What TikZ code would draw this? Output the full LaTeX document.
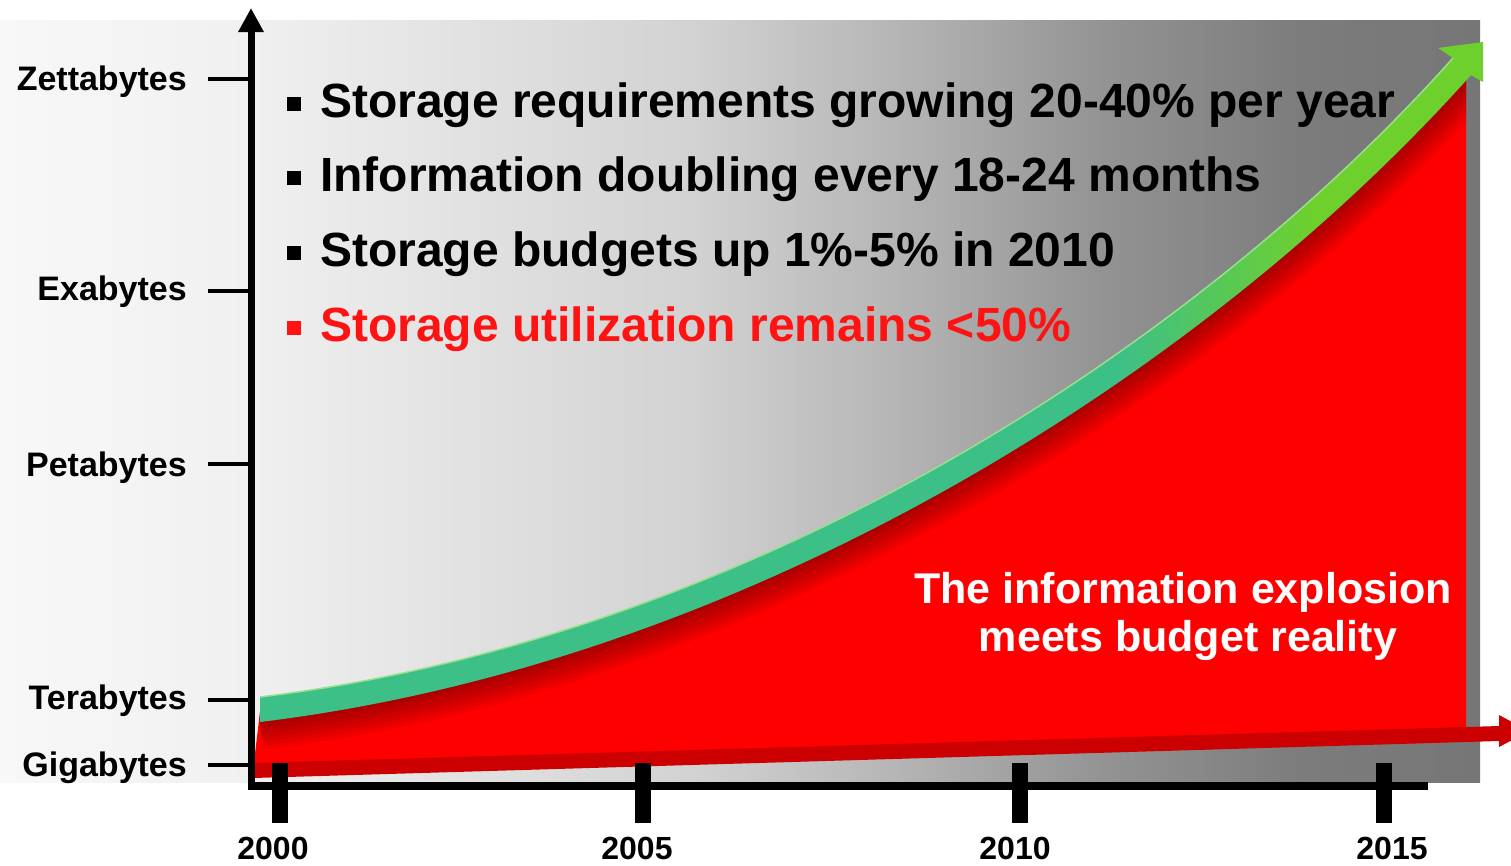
\documentclass[tikz,border=0pt]{standalone}
\usepackage{fontspec}
\setmainfont{Liberation Sans}
\usetikzlibrary{arrows.meta}

% palette
\definecolor{bulletred}{RGB}{255,18,18}
\definecolor{areared}{RGB}{255,0,0}
\definecolor{budgetred}{RGB}{204,0,0}
\definecolor{growteal}{RGB}{61,191,136}
\definecolor{growlime}{RGB}{110,208,45}
\definecolor{growedge}{RGB}{150,225,140}
\definecolor{pa}{RGB}{248,248,248}
\definecolor{pb}{RGB}{240,240,240}
\definecolor{pc}{RGB}{210,210,210}
\definecolor{pd}{RGB}{180,180,180}
\definecolor{pe}{RGB}{148,148,148}
\definecolor{pf}{RGB}{124,124,124}
\definecolor{pg}{RGB}{118,118,118}

% panel background: light on the left, darker grey to the right
\pgfdeclarehorizontalshading{panelshade}{100bp}{%
  color(0bp)=(pa); color(25bp)=(pa); color(33.5bp)=(pb); color(48.5bp)=(pc);
  color(55.5bp)=(pd); color(62bp)=(pe); color(69bp)=(pf); color(75bp)=(pg);
  color(100bp)=(pg)}
% growth arrow: teal body turning lime near the head
\pgfdeclarehorizontalshading{growshade}{100bp}{%
  color(0bp)=(growteal); color(60bp)=(growteal); color(68bp)=(growlime);
  color(100bp)=(growlime)}

\tikzset{
  ylab/.style={font=\bfseries\fontsize{34}{40}\selectfont, inner sep=0pt},
  yearlab/.style={font=\bfseries\fontsize{32}{38}\selectfont, inner sep=0pt, anchor=base},
  bultext/.style={font=\bfseries\fontsize{48}{56}\selectfont, inner sep=0pt, anchor=base west},
  bulsq/.style={rectangle, fill=black, minimum size=14pt, inner sep=0pt},
  expltext/.style={font=\bfseries\fontsize{43}{48}\selectfont, inner sep=0pt, anchor=base, text=white},
  ytick/.style={line width=4pt},
  xtick/.style={line width=16pt},
}

\begin{document}
\begin{tikzpicture}[x=1pt, y=-1pt]
  \clip (0,0) rectangle (1511,865);
  \fill[white] (0,0) rectangle (1511,865);

  % background panel
  \shade[shading=panelshade] (0,20) rectangle (1480,782);

  % area under the growth curve
  \fill[areared] (253,770) -- (260,712) .. controls (750,652) and (1200,362) .. (1462,66)
    -- (1466,66) -- (1466,740) -- cycle;

  % soft shadow beneath the growth arrow
  \begin{scope}
    \clip (253,770) -- (260,712) .. controls (750,652) and (1200,362) .. (1462,66)
      -- (1466,66) -- (1466,740) -- cycle;
    \foreach \w in {8,16,24,32,40,48,56}
      \draw[line width=\w pt, black, opacity=0.05]
        (260,722) .. controls (754,662) and (1208,369.5) .. (1471,75);
  \end{scope}

  % budget arrow (nearly flat)
  \fill[budgetred] (253,763) -- (1499,726) -- (1499,715) -- (1529,731)
    -- (1499,747) -- (1499,741) -- (253,778) -- cycle;

  % growth arrow
  \shade[shading=growshade]
    (260,697) .. controls (745.8,638.2) and (1191.9,350.5) .. (1453,58)
    -- (1438,48) -- (1483,42) -- (1483,82) -- (1471,75)
    .. controls (1208.1,369.5) and (754.2,661.8) .. (260,722) -- cycle;
  \draw[growedge, line width=1.5pt]
    (260,697) .. controls (745.8,638.2) and (1191.9,350.5) .. (1453,58);

  % axes
  \coordinate (ybot) at (251,790);
  \coordinate (ytop) at (251,8);
  \coordinate (xleft) at (255,786);
  \coordinate (xright) at (1428,786);
  \draw[line width=7pt, -{Triangle[width=24pt, length=24pt]}] (ybot) -- (ytop);
  \draw[line width=8pt] (xleft) -- (xright);

  % vertical scale
  \node[ylab, anchor=base east] (zetta) at (187,90) {Zettabytes};
  \node[ylab, anchor=base east] (exa) at (187,300) {Exabytes};
  \node[ylab, anchor=base east] (peta) at (187,476) {Petabytes};
  \node[ylab, anchor=base east] (tera) at (187,709) {Terabytes};
  \node[ylab, anchor=base east] (giga) at (187,776) {Gigabytes};
  \coordinate (tz) at (208,79);
  \coordinate (te) at (208,291);
  \coordinate (tp) at (208,464);
  \coordinate (tt) at (208,700);
  \coordinate (tg) at (208,765);
  \foreach \t in {tz,te,tp,tt,tg}
    \draw[ytick] (\t) -- (\t -| ybot);

  % time scale
  \coordinate (k0) at (280,763);
  \coordinate (k1) at (643,763);
  \coordinate (k2) at (1020,763);
  \coordinate (k3) at (1384,763);
  \foreach \k in {k0,k1,k2,k3}
    \draw[xtick] (\k) -- ++(0,60);
  \node[yearlab] (y2000) at (273,859) {2000};
  \node[yearlab] (y2005) at (637,859) {2005};
  \node[yearlab] (y2010) at (1015,859) {2010};
  \node[yearlab] (y2015) at (1392,859) {2015};

  % bullet list
  \node[bulsq] (b1) at (294,104) {};
  \node[bulsq] (b2) at (294,178) {};
  \node[bulsq] (b3) at (294,253) {};
  \node[bulsq, fill=bulletred] (b4) at (294,328) {};
  \node[bultext] (l1) at (320,117) {Storage requirements growing 20-40\% per year};
  \node[bultext] (l2) at (320,191) {Information doubling every 18-24 months};
  \node[bultext] (l3) at (320,266) {Storage budgets up 1\%-5\% in 2010};
  \node[bultext, text=bulletred] (l4) at (320,341) {Storage utilization remains <50\%};

  % caption inside the red area
  \node[expltext] (ex1) at (1183,603) {The information explosion};
  \node[expltext] (ex2) at (1188,651) {meets budget reality};
\end{tikzpicture}
\end{document}
